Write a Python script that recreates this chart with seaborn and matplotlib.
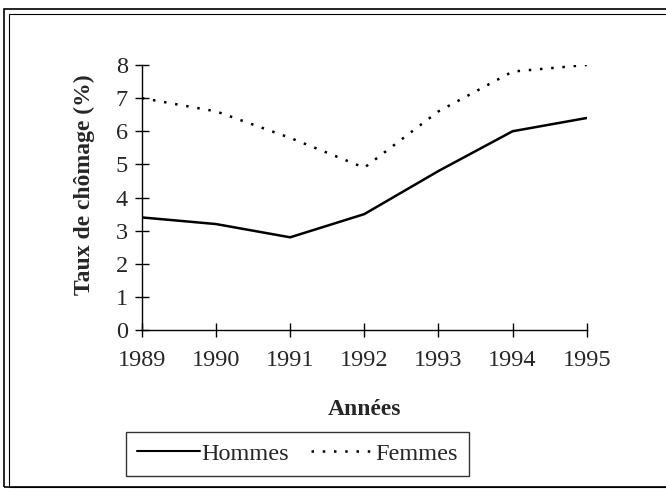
import pandas as pd
import seaborn as sns
import matplotlib.pyplot as plt
from matplotlib.patches import Rectangle
from matplotlib.lines import Line2D

# values
annees = [1989, 1990, 1991, 1992, 1993, 1994, 1995]
hommes = [3.4, 3.2, 2.8, 3.5, 4.8, 6.0, 6.4]
femmes = [7.0, 6.6, 5.8, 4.9, 6.6, 7.8, 8.0]

df = pd.DataFrame({
    "Année": annees * 2,
    "Taux": hommes + femmes,
    "Sexe": ["Hommes"] * len(annees) + ["Femmes"] * len(annees),
})

sns.set_style("white")
plt.rcParams['font.family'] = ['Liberation Serif', 'DejaVu Serif']

fig = plt.figure(figsize=(6.66, 4.92), dpi=100)
ax = fig.add_axes([0.213, 0.329, 0.668, 0.539])

sns.lineplot(data=df, x="Année", y="Taux", hue="Sexe", style="Sexe",
             palette={"Hommes": "black", "Femmes": "black"},
             dashes={"Hommes": "", "Femmes": (1, 3.5)},
             linewidth=1.8, legend=False, ax=ax)

ax.set_xlim(annees[0], annees[-1])
ax.set_ylim(0, 8)
ax.set_xticks(annees)
ax.set_yticks(range(0, 9))
ax.tick_params(bottom=True, left=True, direction="inout", length=10, width=1,
               labelsize=17.5, color="black")
ax.tick_params(axis="x", pad=9)
ax.tick_params(axis="y", pad=5)
ax.set_xlabel("Années", fontsize=17, fontweight="bold")
ax.set_ylabel("Taux de chômage (%)", fontsize=17, fontweight="bold")
ax.xaxis.set_label_coords(0.5, -0.26)
ax.yaxis.set_label_coords(-0.105, 0.55)
for side in ["top", "right"]:
    ax.spines[side].set_visible(False)
for side in ["left", "bottom"]:
    ax.spines[side].set_color("black")
    ax.spines[side].set_linewidth(1)

# legend box below the axis title
handles = [Line2D([], [], color="black", lw=1.5),
           Line2D([], [], color="black", lw=1.8, linestyle=(0, (1, 3.5)))]
leg = fig.legend(handles, ["Hommes", "Femmes"], ncol=2, loc="center",
                 bbox_to_anchor=(0.447, 0.078), fontsize=17.5, frameon=True,
                 fancybox=False, edgecolor="black", handlelength=2.6,
                 handletextpad=0.05, columnspacing=0.9, borderpad=0.45)
leg.get_frame().set_linewidth(1)

# double frame around the whole figure
fig.patches.append(Rectangle((0.006, 0.01), 1.0, 0.972, transform=fig.transFigure,
                             fill=False, edgecolor="black", lw=1.2))
fig.patches.append(Rectangle((0.013, 0.01), 1.0, 0.962, transform=fig.transFigure,
                             fill=False, edgecolor="black", lw=0.8))

fig.savefig("out.png", dpi=100)
